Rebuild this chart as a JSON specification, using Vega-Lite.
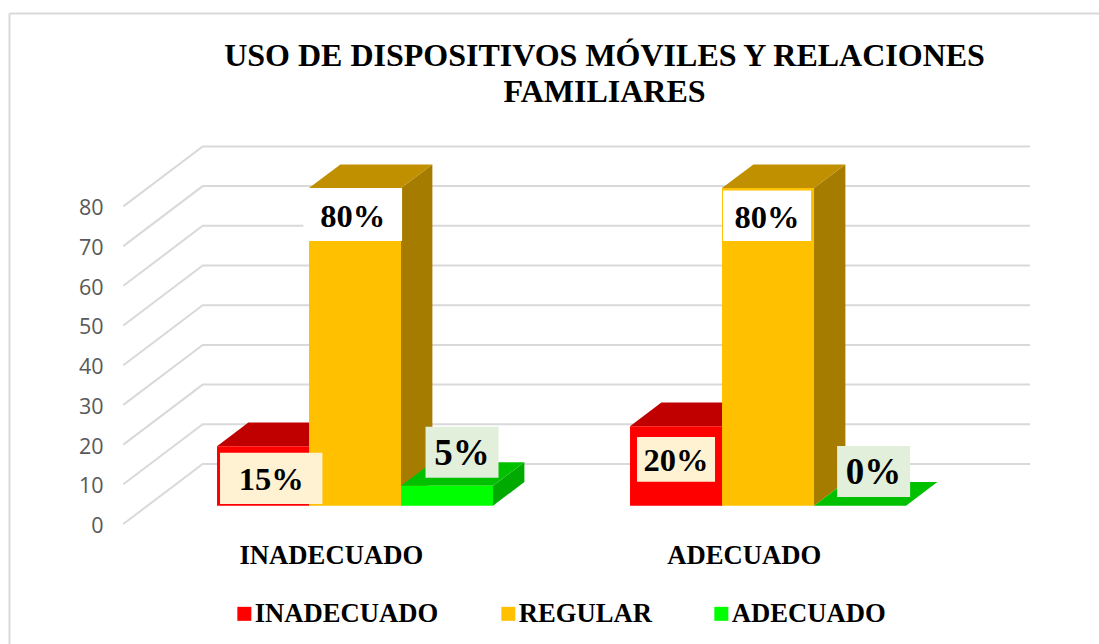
{
"$schema":"https://vega.github.io/schema/vega-lite/v6.json",
"width":1099,"height":644,"autosize":{"type":"none"},"padding":0,"background":"white",
"title":{"text":["USO DE DISPOSITIVOS MÓVILES Y RELACIONES","FAMILIARES"],"font":"Liberation Serif","fontWeight":"bold","fontSize":32,"color":"#000000","anchor":"middle","dx":55,"baseline":"top","offset":-109,"lineHeight":36},
"config":{"view":{"stroke":null}},
"datasets":{
"barras":[
{"grupo":"INADECUADO","serie":"INADECUADO","valor":15},
{"grupo":"INADECUADO","serie":"REGULAR","valor":80},
{"grupo":"INADECUADO","serie":"ADECUADO","valor":5},
{"grupo":"ADECUADO","serie":"INADECUADO","valor":20},
{"grupo":"ADECUADO","serie":"REGULAR","valor":80},
{"grupo":"ADECUADO","serie":"ADECUADO","valor":0}],
"marcas":[{"t":0},{"t":10},{"t":20},{"t":30},{"t":40},{"t":50},{"t":60},{"t":70},{"t":80}]
},
"encoding":{
"x":{"field":"ex","type":"quantitative","title":null,"scale":{"domain":[-0.80097,1.86005],"nice":false,"zero":false},
"axis":{"values":[0,1],"labelExpr":"datum.value==0?'INADECUADO':'ADECUADO'","orient":"bottom","offset":-89,"domain":false,"ticks":false,"grid":false,"labelPadding":0,"labelBaseline":"middle","labelFont":"Liberation Serif","labelFontWeight":"bold","labelFontSize":26.67,"labelColor":"#000000","labelLimit":400,"title":null}},
"y":{"field":"ey","type":"quantitative","title":null,"scale":{"domain":[131.99,-30.227],"reverse":true,"nice":false,"zero":false},
"axis":{"values":[0,10,20,30,40,50,60,70,80],"orient":"left","offset":-103,"domain":false,"ticks":false,"grid":false,"labelPadding":0,"labelOffset":2.5,"labelFont":"Open Sans","labelFontSize":21.5,"labelColor":"#595959","title":null}}
},
"resolve":{"scale":{"color":"independent"}},
"layer":[
{"data":{"values":[{"a":-0.77797,"b":1.86005,"c":128.59,"d":-30.2}]},"mark":{"type":"rule","color":"#d9d9d9","strokeWidth":2},
 "transform":[{"calculate":"datum.a","as":"ex"},{"calculate":"datum.c","as":"ey"}],
 "encoding":{"y2":{"field":"d"}}},
{"data":{"values":[{"a":-0.77797,"b":1.86005,"c":128.59}]},"mark":{"type":"rule","color":"#d9d9d9","strokeWidth":2},
 "transform":[{"calculate":"datum.a","as":"ex"},{"calculate":"datum.c","as":"ey"}],
 "encoding":{"x2":{"field":"b"}}},
{"data":{"name":"marcas"},"mark":{"type":"line","color":"#d9d9d9","strokeWidth":2},
 "transform":[{"calculate":"[0,1,2]","as":"k"},{"flatten":["k"]},
  {"calculate":"datum.k==0?-0.5024:(datum.k==1?-0.31017:1.693)","as":"ex"},
  {"calculate":"datum.t+(datum.k>0?15.113:0)","as":"ey"}],
 "encoding":{"detail":{"field":"t"},"order":{"field":"k"}}},
{"data":{"name":"barras"},
 "transform":[
  {"calculate":"datum.grupo=='INADECUADO'?0:1","as":"i"},
  {"calculate":"{'INADECUADO':-1,'REGULAR':0,'ADECUADO':1}[datum.serie]","as":"s"},
  {"calculate":"datum.i+(datum.s-0.5)*92/413+0.305*79.4/413","as":"x0"},
  {"calculate":"datum.x0+92/413","as":"x1"},
  {"calculate":"0.305*15.113","as":"yb"},
  {"calculate":"datum.yb+datum.valor","as":"yt"},
  {"calculate":"0.395*79.4/413","as":"dxd"},
  {"calculate":"0.395*15.113","as":"dyd"}],
 "resolve":{"scale":{"color":"independent"}},
 "layer":[
  {"mark":{"type":"area","orient":"vertical"},
   "transform":[{"calculate":"[0,1]","as":"k"},{"flatten":["k"]},
    {"calculate":"datum.x1+datum.k*datum.dxd","as":"ex"},
    {"calculate":"datum.yt+datum.k*datum.dyd","as":"ey"},
    {"calculate":"datum.yb+datum.k*datum.dyd","as":"ey2"},
    {"calculate":"datum.grupo+datum.serie","as":"id"}],
   "encoding":{"y2":{"field":"ey2"},"detail":{"field":"id"},
    "color":{"field":"serie","type":"nominal","legend":null,"scale":{"domain":["INADECUADO","REGULAR","ADECUADO"],"range":["#a00000","#a67c00","#00aa00"]}}}},
  {"mark":{"type":"area","orient":"horizontal"},
   "transform":[{"calculate":"[0,1]","as":"k"},{"flatten":["k"]},
    {"calculate":"datum.x0+datum.k*datum.dxd","as":"ex"},
    {"calculate":"datum.x1+datum.k*datum.dxd","as":"ex2"},
    {"calculate":"datum.yt+datum.k*datum.dyd","as":"ey"},
    {"calculate":"datum.grupo+datum.serie","as":"id"}],
   "encoding":{"x2":{"field":"ex2"},"detail":{"field":"id"},
    "color":{"field":"serie","type":"nominal","legend":null,"scale":{"domain":["INADECUADO","REGULAR","ADECUADO"],"range":["#c00000","#c09000","#00c000"]}}}},
  {"mark":{"type":"rect"},
   "transform":[{"calculate":"datum.x0","as":"ex"},{"calculate":"datum.yt","as":"ey"}],
   "encoding":{"x2":{"field":"x1"},"y2":{"field":"yb"},
    "color":{"field":"serie","type":"nominal","scale":{"domain":["INADECUADO","REGULAR","ADECUADO"],"range":["#ff0000","#ffc000","#00ff00"]},
     "legend":{"title":null,"orient":"none","legendX":231,"legendY":600,"direction":"horizontal","columns":3,"columnPadding":56,"symbolType":"square","symbolSize":196,"symbolStrokeWidth":0,"symbolOpacity":1,"labelFont":"Liberation Serif","labelFontWeight":"bold","labelFontSize":26.67,"labelColor":"#000000","labelOffset":-3,"labelLimit":300,"padding":0}}}},
  {"transform":[
    {"calculate":"{'INADECUADO|INADECUADO':[8.2,102.4,32.2,51.3],'INADECUADO|REGULAR':[-2.3,98.7,26.5,53],'INADECUADO|ADECUADO':[15,73,-33.65,51],'ADECUADO|INADECUADO':[0,78,33,44.7],'ADECUADO|REGULAR':[-1,88,27.65,50.7],'ADECUADO|ADECUADO':[13.6,73,-34.2,51]}[datum.grupo+'|'+datum.serie]","as":"c"},
    {"calculate":"(datum.x0+datum.x1)/2+datum.c[0]/413","as":"cx"},
    {"calculate":"datum.yt-datum.c[2]/3.97","as":"cy"},
    {"calculate":"datum.valor+'%'","as":"etiqueta"},
    {"calculate":"datum.serie=='ADECUADO'?37:32.5","as":"tam"}],
   "resolve":{"scale":{"color":"independent"}},
   "layer":[
    {"mark":{"type":"rect"},
     "transform":[{"calculate":"datum.cx-datum.c[1]/2/413","as":"ex"},{"calculate":"datum.cx+datum.c[1]/2/413","as":"ex2"},
      {"calculate":"datum.cy+datum.c[3]/2/3.97","as":"ey"},{"calculate":"datum.cy-datum.c[3]/2/3.97","as":"ey2"}],
     "encoding":{"x2":{"field":"ex2"},"y2":{"field":"ey2"},
      "color":{"field":"serie","type":"nominal","legend":null,"scale":{"domain":["INADECUADO","REGULAR","ADECUADO"],"range":["#fff2d3","#ffffff","#e2efda"]}}}},
    {"mark":{"type":"text","font":"Liberation Serif","fontWeight":"bold","color":"#000000","baseline":"middle","align":"center","dy":2},
     "transform":[{"calculate":"datum.cx","as":"ex"},{"calculate":"datum.cy","as":"ey"}],
     "encoding":{"text":{"field":"etiqueta"},"size":{"field":"tam","type":"quantitative","scale":null,"legend":null}}}
   ]}
 ]}
]}
